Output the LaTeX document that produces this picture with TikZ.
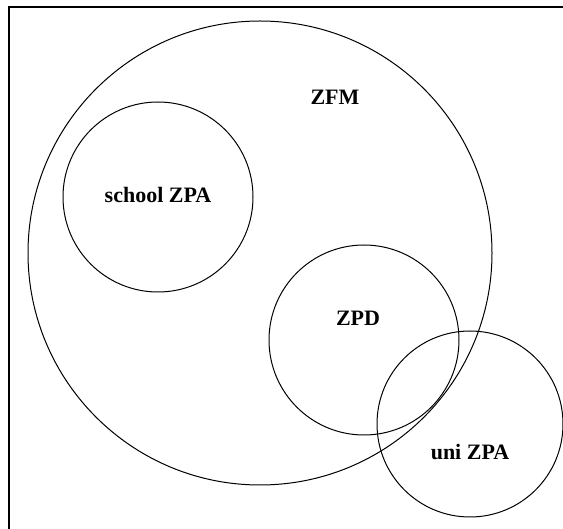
\documentclass[tikz,border=0pt]{standalone}
\usepackage{fontspec}
\setmainfont{Liberation Serif}
\usetikzlibrary{arrows.meta}

\begin{document}
\begin{tikzpicture}[x=0.5pt, y=-0.5pt, line width=0.5pt, every node/.style={inner sep=0pt, font=\fontsize{11}{13}\selectfont\bfseries}]
    \useasboundingbox (0,0) rectangle (563,529);
    \coordinate (fm) at (260,253);
    \coordinate (sc) at (158,197);
    \coordinate (pd) at (364,340);
    \coordinate (un) at (470,424);
    \coordinate (corner) at (9,7);
        \draw[line width=1pt] (9,545) -- (corner) -- (575,7);
        \draw (fm) circle[radius=116pt];
        \draw (sc) circle[radius=47.5pt];
        \draw (pd) circle[radius=47.5pt];
        \draw (un) circle[radius=46.5pt];
    \node (1) at (335,97) {ZFM};
    \node (2) at (158,195) {school ZPA};
    \node (3) at (358,318) {ZPD};
    \node (4) at (470,452) {uni ZPA};
\end{tikzpicture}
\end{document}
